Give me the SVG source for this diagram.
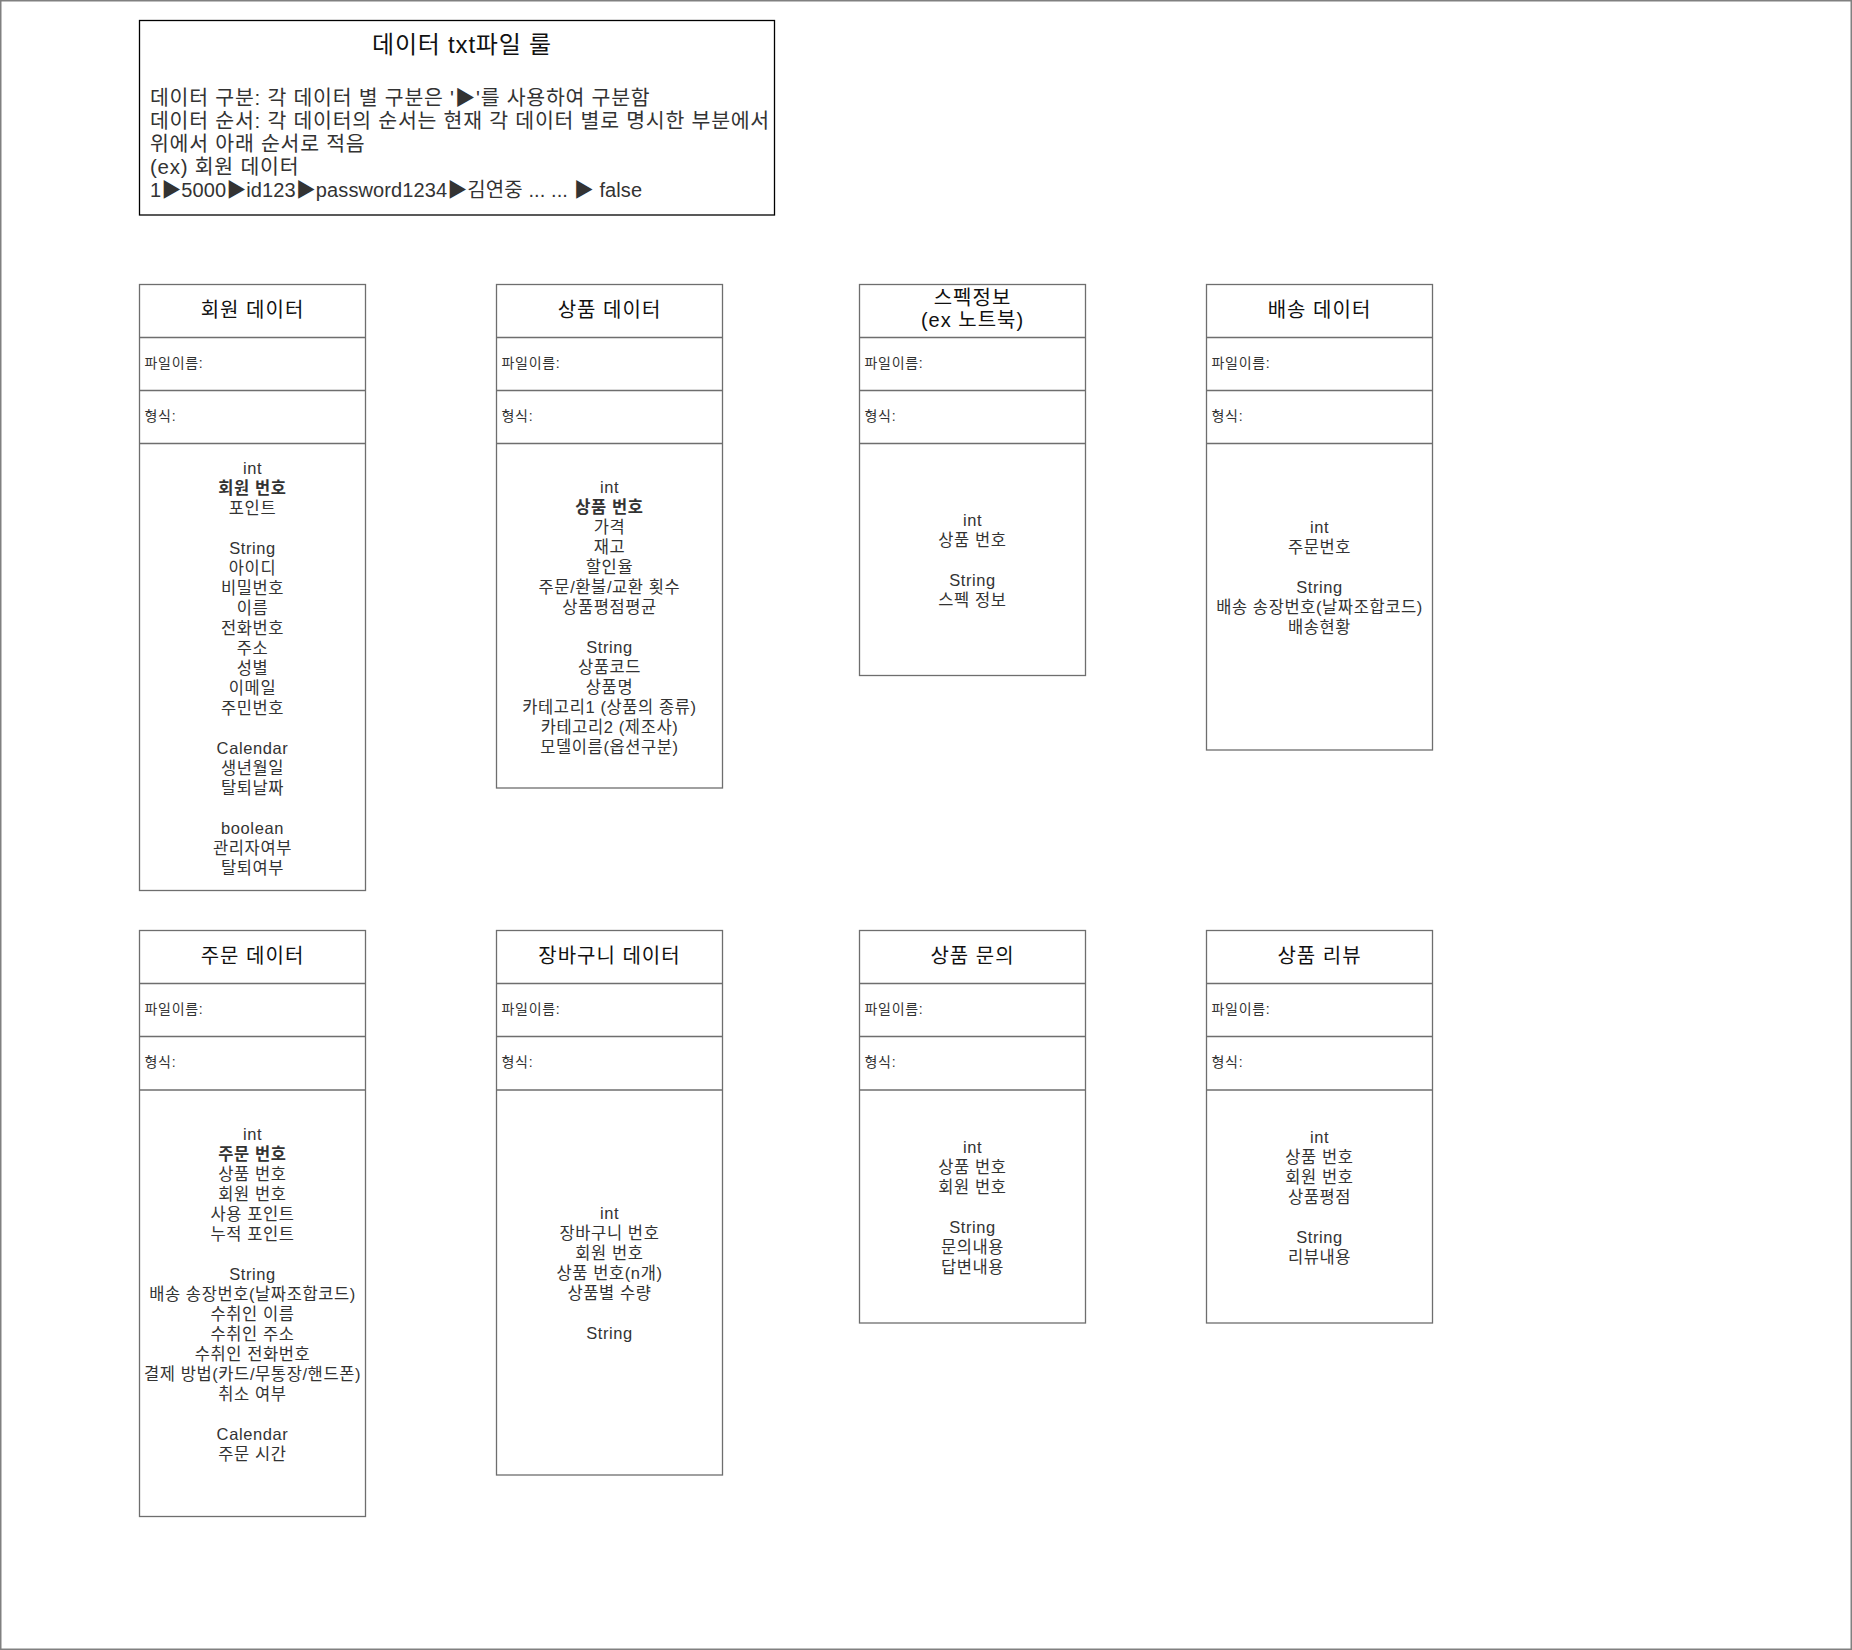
<svg xmlns="http://www.w3.org/2000/svg" width="1852" height="1650" viewBox="0 0 1852 1650">
<style>
.frame{fill:#fff;stroke:#808080;stroke-width:1.5}
.rule{fill:#fff;stroke:#000;stroke-width:1.3}
.box{fill:#fff;stroke:#6e6e6e;stroke-width:1.3}
.sep{stroke:#6e6e6e;stroke-width:1.3}
text{font-family:"Liberation Sans","Noto Sans CJK KR",sans-serif;dominant-baseline:central}
.rt{font-size:24px;fill:#111;text-anchor:middle;letter-spacing:0.8px}
.rb{font-size:20.5px;fill:#333;letter-spacing:0.75px}
.rb5{font-size:20px;fill:#333;letter-spacing:0.1px}
.title{font-size:20px;fill:#111;text-anchor:middle;letter-spacing:1px}
.lbl{font-size:14px;fill:#333;letter-spacing:0.7px}
.body{font-size:16.5px;fill:#333;text-anchor:middle;letter-spacing:0.6px}
.b{font-weight:bold}
</style>
<rect class="frame" x="0.75" y="0.75" width="1850.5" height="1648.5"/>

<g id="rules">
<rect class="rule" x="139.5" y="20.5" width="635" height="194.5"/>
<text class="rt" x="462" y="44">데이터 txt파일 룰</text>
<text class="rb" x="150" y="97">데이터 구분: 각 데이터 별 구분은 '▶'를 사용하여 구분함</text>
<text class="rb" x="150" y="120.5">데이터 순서: 각 데이터의 순서는 현재 각 데이터 별로 명시한 부분에서</text>
<text class="rb" x="150" y="143">위에서 아래 순서로 적음</text>
<text class="rb" x="150" y="166.5">(ex) 회원 데이터</text>
<text class="rb5" x="150" y="190">1▶5000▶id123▶password1234▶김연중 ... ... ▶ false</text>
</g>

<g id="connectors"></g>

<g id="member">
<rect class="box" x="139.5" y="284.5" width="226" height="606"/>
<line class="sep" x1="139.5" y1="337.5" x2="365.5" y2="337.5"/>
<line class="sep" x1="139.5" y1="390.5" x2="365.5" y2="390.5"/>
<line class="sep" x1="139.5" y1="443.5" x2="365.5" y2="443.5"/>
<text class="title" x="252.5" y="310">회원 데이터</text>
<text class="lbl" x="144.5" y="363">파일이름:</text>
<text class="lbl" x="144.5" y="416">형식:</text>
<text class="body"><tspan x="252.5" y="467.5">int</tspan><tspan x="252.5" y="487.5" class="b">회원 번호</tspan><tspan x="252.5" y="507.5">포인트</tspan><tspan x="252.5" y="547.5">String</tspan><tspan x="252.5" y="567.5">아이디</tspan><tspan x="252.5" y="587.5">비밀번호</tspan><tspan x="252.5" y="607.5">이름</tspan><tspan x="252.5" y="627.5">전화번호</tspan><tspan x="252.5" y="647.5">주소</tspan><tspan x="252.5" y="667.5">성별</tspan><tspan x="252.5" y="687.5">이메일</tspan><tspan x="252.5" y="707.5">주민번호</tspan><tspan x="252.5" y="747.5">Calendar</tspan><tspan x="252.5" y="767.5">생년월일</tspan><tspan x="252.5" y="787.5">탈퇴날짜</tspan><tspan x="252.5" y="827.5">boolean</tspan><tspan x="252.5" y="847.5">관리자여부</tspan><tspan x="252.5" y="867.5">탈퇴여부</tspan></text>
</g>

<g id="product">
<rect class="box" x="496.5" y="284.5" width="226" height="503.5"/>
<line class="sep" x1="496.5" y1="337.5" x2="722.5" y2="337.5"/>
<line class="sep" x1="496.5" y1="390.5" x2="722.5" y2="390.5"/>
<line class="sep" x1="496.5" y1="443.5" x2="722.5" y2="443.5"/>
<text class="title" x="609.5" y="310">상품 데이터</text>
<text class="lbl" x="501.5" y="363">파일이름:</text>
<text class="lbl" x="501.5" y="416">형식:</text>
<text class="body"><tspan x="609.5" y="486.5">int</tspan><tspan x="609.5" y="506.5" class="b">상품 번호</tspan><tspan x="609.5" y="526.5">가격</tspan><tspan x="609.5" y="546.5">재고</tspan><tspan x="609.5" y="566.5">할인율</tspan><tspan x="609.5" y="586.5">주문/환불/교환 횟수</tspan><tspan x="609.5" y="606.5">상품평점평균</tspan><tspan x="609.5" y="646.5">String</tspan><tspan x="609.5" y="666.5">상품코드</tspan><tspan x="609.5" y="686.5">상품명</tspan><tspan x="609.5" y="706.5">카테고리1 (상품의 종류)</tspan><tspan x="609.5" y="726.5">카테고리2 (제조사)</tspan><tspan x="609.5" y="746.5">모델이름(옵션구분)</tspan></text>
</g>

<g id="spec">
<rect class="box" x="859.5" y="284.5" width="226" height="391"/>
<line class="sep" x1="859.5" y1="337.5" x2="1085.5" y2="337.5"/>
<line class="sep" x1="859.5" y1="390.5" x2="1085.5" y2="390.5"/>
<line class="sep" x1="859.5" y1="443.5" x2="1085.5" y2="443.5"/>
<text class="title"><tspan x="972.5" y="298">스펙정보</tspan><tspan x="972.5" y="320">(ex 노트북)</tspan></text>
<text class="lbl" x="864.5" y="363">파일이름:</text>
<text class="lbl" x="864.5" y="416">형식:</text>
<text class="body"><tspan x="972.5" y="520">int</tspan><tspan x="972.5" y="540">상품 번호</tspan><tspan x="972.5" y="580">String</tspan><tspan x="972.5" y="600">스펙 정보</tspan></text>
</g>

<g id="delivery">
<rect class="box" x="1206.5" y="284.5" width="226" height="465.5"/>
<line class="sep" x1="1206.5" y1="337.5" x2="1432.5" y2="337.5"/>
<line class="sep" x1="1206.5" y1="390.5" x2="1432.5" y2="390.5"/>
<line class="sep" x1="1206.5" y1="443.5" x2="1432.5" y2="443.5"/>
<text class="title" x="1319.5" y="310">배송 데이터</text>
<text class="lbl" x="1211.5" y="363">파일이름:</text>
<text class="lbl" x="1211.5" y="416">형식:</text>
<text class="body"><tspan x="1319.5" y="527">int</tspan><tspan x="1319.5" y="547">주문번호</tspan><tspan x="1319.5" y="587">String</tspan><tspan x="1319.5" y="607">배송 송장번호(날짜조합코드)</tspan><tspan x="1319.5" y="627">배송현황</tspan></text>
</g>

<g id="order">
<rect class="box" x="139.5" y="930.5" width="226" height="586"/>
<line class="sep" x1="139.5" y1="983.5" x2="365.5" y2="983.5"/>
<line class="sep" x1="139.5" y1="1036.5" x2="365.5" y2="1036.5"/>
<line class="sep" x1="139.5" y1="1090" x2="365.5" y2="1090"/>
<text class="title" x="252.5" y="956">주문 데이터</text>
<text class="lbl" x="144.5" y="1009">파일이름:</text>
<text class="lbl" x="144.5" y="1062">형식:</text>
<text class="body"><tspan x="252.5" y="1134">int</tspan><tspan x="252.5" y="1154" class="b">주문 번호</tspan><tspan x="252.5" y="1174">상품 번호</tspan><tspan x="252.5" y="1194">회원 번호</tspan><tspan x="252.5" y="1214">사용 포인트</tspan><tspan x="252.5" y="1234">누적 포인트</tspan><tspan x="252.5" y="1274">String</tspan><tspan x="252.5" y="1294">배송 송장번호(날짜조합코드)</tspan><tspan x="252.5" y="1314">수취인 이름</tspan><tspan x="252.5" y="1334">수취인 주소</tspan><tspan x="252.5" y="1354">수취인 전화번호</tspan><tspan x="252.5" y="1374">결제 방법(카드/무통장/핸드폰)</tspan><tspan x="252.5" y="1394">취소 여부</tspan><tspan x="252.5" y="1434">Calendar</tspan><tspan x="252.5" y="1454">주문 시간</tspan></text>
</g>

<g id="cart">
<rect class="box" x="496.5" y="930.5" width="226" height="544.5"/>
<line class="sep" x1="496.5" y1="983.5" x2="722.5" y2="983.5"/>
<line class="sep" x1="496.5" y1="1036.5" x2="722.5" y2="1036.5"/>
<line class="sep" x1="496.5" y1="1090" x2="722.5" y2="1090"/>
<text class="title" x="609.5" y="956">장바구니 데이터</text>
<text class="lbl" x="501.5" y="1009">파일이름:</text>
<text class="lbl" x="501.5" y="1062">형식:</text>
<text class="body"><tspan x="609.5" y="1213">int</tspan><tspan x="609.5" y="1233">장바구니 번호</tspan><tspan x="609.5" y="1253">회원 번호</tspan><tspan x="609.5" y="1273">상품 번호(n개)</tspan><tspan x="609.5" y="1293">상품별 수량</tspan><tspan x="609.5" y="1333">String</tspan></text>
</g>

<g id="inquiry">
<rect class="box" x="859.5" y="930.5" width="226" height="392.5"/>
<line class="sep" x1="859.5" y1="983.5" x2="1085.5" y2="983.5"/>
<line class="sep" x1="859.5" y1="1036.5" x2="1085.5" y2="1036.5"/>
<line class="sep" x1="859.5" y1="1090" x2="1085.5" y2="1090"/>
<text class="title" x="972.5" y="956">상품 문의</text>
<text class="lbl" x="864.5" y="1009">파일이름:</text>
<text class="lbl" x="864.5" y="1062">형식:</text>
<text class="body"><tspan x="972.5" y="1147">int</tspan><tspan x="972.5" y="1167">상품 번호</tspan><tspan x="972.5" y="1187">회원 번호</tspan><tspan x="972.5" y="1227">String</tspan><tspan x="972.5" y="1247">문의내용</tspan><tspan x="972.5" y="1267">답변내용</tspan></text>
</g>

<g id="review">
<rect class="box" x="1206.5" y="930.5" width="226" height="392.5"/>
<line class="sep" x1="1206.5" y1="983.5" x2="1432.5" y2="983.5"/>
<line class="sep" x1="1206.5" y1="1036.5" x2="1432.5" y2="1036.5"/>
<line class="sep" x1="1206.5" y1="1090" x2="1432.5" y2="1090"/>
<text class="title" x="1319.5" y="956">상품 리뷰</text>
<text class="lbl" x="1211.5" y="1009">파일이름:</text>
<text class="lbl" x="1211.5" y="1062">형식:</text>
<text class="body"><tspan x="1319.5" y="1137">int</tspan><tspan x="1319.5" y="1157">상품 번호</tspan><tspan x="1319.5" y="1177">회원 번호</tspan><tspan x="1319.5" y="1197">상품평점</tspan><tspan x="1319.5" y="1237">String</tspan><tspan x="1319.5" y="1257">리뷰내용</tspan></text>
</g>
</svg>
